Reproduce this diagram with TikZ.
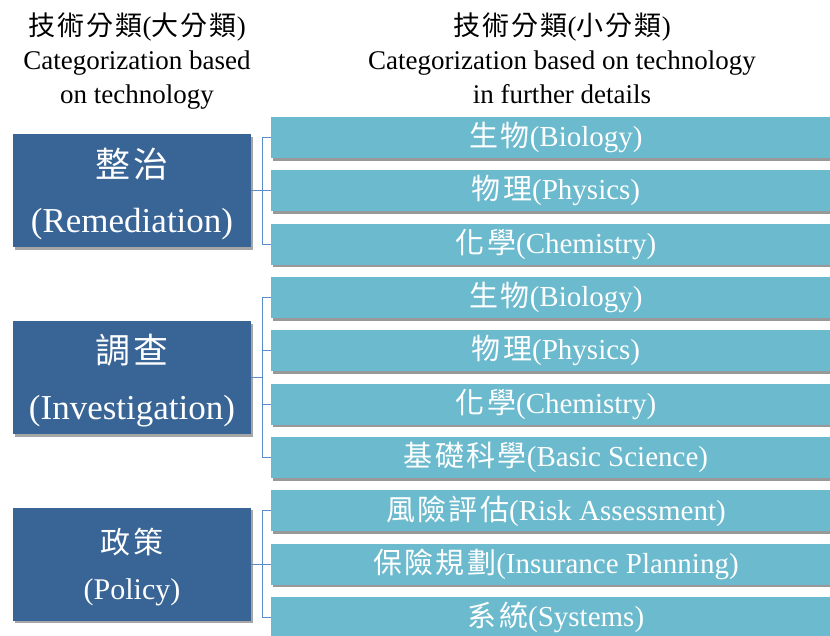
\documentclass[tikz,border=0pt]{standalone}
\usepackage{fontspec}
\setmainfont{Liberation Serif}
\newfontfamily\cjkfont[LetterSpace=8]{Noto Sans CJK TC}
\newcommand\zh[1]{{\cjkfont #1}}
\usetikzlibrary{shadows}
\definecolor{catdark}{HTML}{386496}
\definecolor{catlight}{HTML}{6CBACE}
\definecolor{catline}{HTML}{5A8CC8}
\tikzset{
  header/.style={align=center, inner sep=0pt, text=black,
    font=\fontsize{27}{34}\selectfont},
  mainbox/.style={fill=catdark, text=white, align=center, inner sep=0pt,
    minimum width=238pt, minimum height=113pt,
    drop shadow={shadow xshift=2pt, shadow yshift=-2.5pt, fill=black, opacity=0.35}},
  subbox/.style={fill=catlight, text=white, align=center, inner sep=0pt,
    minimum width=570pt, minimum height=41pt,
    font=\fontsize{29}{34}\selectfont,
    drop shadow={shadow xshift=1.5pt, shadow yshift=-2.5pt, fill=black, opacity=0.4}},
  link/.style={draw=catline, line width=1pt},
}
\begin{document}
\begin{tikzpicture}[x=1pt, y=-1pt]
\useasboundingbox (0,0) rectangle (830,635);
\clip (0,0) rectangle (830,635);
\fill[white] (0,0) rectangle (830,635);

% column headings
\node[header] (h1) at (137,61.5) {\zh{技術分類}(\zh{大分類})\\Categorization based\\on technology};
\node[header] (h2) at (562,58) {\zh{技術分類}(\zh{小分類})\\Categorization based on technology\\in further details};

% main categories
\node[mainbox, font=\fontsize{35}{55}\selectfont] (m1) at (132,190.5) {\rule{0pt}{36pt}\zh{整治}\\(Remediation)};
\node[mainbox, font=\fontsize{35}{56}\selectfont] (m2) at (132,377.5) {\rule{0pt}{36pt}\zh{調查}\\(Investigation)};
\node[mainbox, font=\fontsize{30}{46}\selectfont] (m3) at (132,564) {\rule{0pt}{31pt}\zh{政策}\\(Policy)};

% sub categories
\node[subbox] (s1)  at (556,137.5) {\zh{生物}(Biology)};
\node[subbox] (s2)  at (556,190.8) {\zh{物理}(Physics)};
\node[subbox] (s3)  at (556,244.2) {\zh{化學}(Chemistry)};
\node[subbox] (s4)  at (556,297.5) {\zh{生物}(Biology)};
\node[subbox] (s5)  at (556,350.8) {\zh{物理}(Physics)};
\node[subbox] (s6)  at (556,404.2) {\zh{化學}(Chemistry)};
\node[subbox] (s7)  at (556,457.5) {\zh{基礎科學}(Basic Science)};
\node[subbox] (s8)  at (556,510.8) {\zh{風險評估}(Risk Assessment)};
\node[subbox] (s9)  at (556,564.2) {\zh{保險規劃}(Insurance Planning)};
\node[subbox] (s10) at (556,617.5) {\zh{系統}(Systems)};

% bracket connectors
\foreach \c in {s1,s2,s3} \draw[link] (m1.east) -- ++(11,0) |- (\c.west);
\foreach \c in {s4,s5,s6,s7} \draw[link] (m2.east) -- ++(11,0) |- (\c.west);
\foreach \c in {s8,s9,s10} \draw[link] (m3.east) -- ++(11,0) |- (\c.west);
\end{tikzpicture}
\end{document}
